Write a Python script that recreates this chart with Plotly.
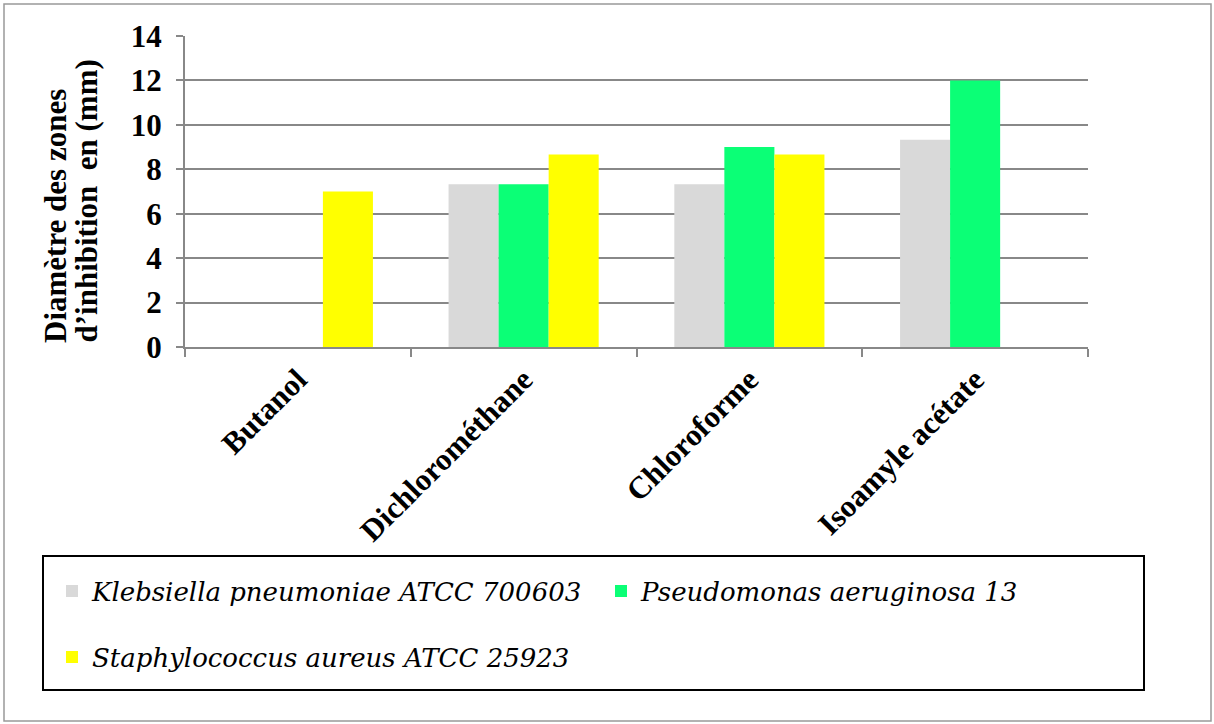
import plotly.graph_objects as go

categories = ["Butanol", "Dichlorométhane", "Chloroforme", "Isoamyle acétate"]
series_names = ["Klebsiella pneumoniae ATCC 700603",
                "Pseudomonas aeruginosa 13",
                "Staphylococcus aureus ATCC 25923"]
klebsiella = [0, 7.33, 7.33, 9.33]
pseudomonas = [0, 7.33, 9.0, 12.0]
staphylococcus = [7.0, 8.67, 8.67, 0]
colors = ["#D9D9D9", "#0BFF76", "#FFFF00"]
y_ticks = [0, 2, 4, 6, 8, 10, 12, 14]
y_title_lines = ["Diamètre des zones", "d’inhibition  en (mm)"]

W, H = 1214, 724
L, R, T, B = 185, 1088, 36, 347

def px(x):
    return (x - L) / (R - L)

def py(y):
    return (B - y) / (B - T)

FONT = "Liberation Serif"
LEG_FONT = "DejaVu Serif"
FS = 31

fig = go.Figure()
legends = ["legend", "legend2", "legend3"]
for name, vals, col, lg in zip(series_names, [klebsiella, pseudomonas, staphylococcus], colors, legends):
    fig.add_trace(go.Bar(x=categories, y=vals, name=name, marker=dict(color=col, line=dict(width=0)),
                         legend=lg, showlegend=True))

def legend_cfg(x, y):
    return dict(orientation="h", bgcolor="rgba(0,0,0,0)", borderwidth=0,
                font=dict(family=LEG_FONT, size=26, color="black", style="italic"),
                xanchor="left", yanchor="middle", x=x, y=y)

annotations = []
for line, xc in zip(y_title_lines, [55, 86]):
    annotations.append(dict(text=line, xref="paper", yref="paper", x=px(xc), y=py(345),
                            showarrow=False, textangle=-90, xanchor="center", yanchor="bottom",
                            font=dict(family=FONT, size=FS, color="black", weight="bold")))

fig.update_layout(
    width=W, height=H, showlegend=True,
    margin=dict(l=L, r=W - R, t=T, b=H - B, autoexpand=False),
    paper_bgcolor="white", plot_bgcolor="white",
    barmode="group", bargap=0.335, bargroupgap=0,
    font=dict(family=FONT, size=FS, color="black"),
    legend=legend_cfg(px(52), py(591)),
    legend2=legend_cfg(px(601), py(591)),
    legend3=legend_cfg(px(52), py(657)),
    xaxis=dict(
        type="category", showline=True, linecolor="#888888", linewidth=2,
        ticks="outside", tickson="boundaries", ticklen=8, tickcolor="#888888", tickwidth=2,
        tickangle=-45, tickfont=dict(family=FONT, size=FS, color="black", weight="bold"),
        showgrid=False,
    ),
    yaxis=dict(
        range=[0, 14], tickvals=y_ticks, showline=True, linecolor="#888888", linewidth=2,
        ticks="outside", ticklen=7, tickcolor="#888888", tickwidth=2, ticklabelstandoff=8,
        showgrid=True, gridcolor="#888888", gridwidth=2, zeroline=False,
        tickfont=dict(family=FONT, size=FS, color="black", weight="bold"),
    ),
    shapes=[
        dict(type="rect", xref="paper", yref="paper", x0=px(43), x1=px(1144), y0=py(556), y1=py(690),
             line=dict(color="black", width=2), fillcolor="rgba(0,0,0,0)", layer="above"),
        dict(type="rect", xref="paper", yref="paper", x0=px(4), x1=px(1211), y0=py(4), y1=py(721),
             line=dict(color="#999999", width=1.5), fillcolor="rgba(0,0,0,0)", layer="below"),
    ],
    annotations=annotations,
)

fig.write_html("out.html", config={"displayModeBar": False},
               post_script="document.body.style.margin='0px';")
